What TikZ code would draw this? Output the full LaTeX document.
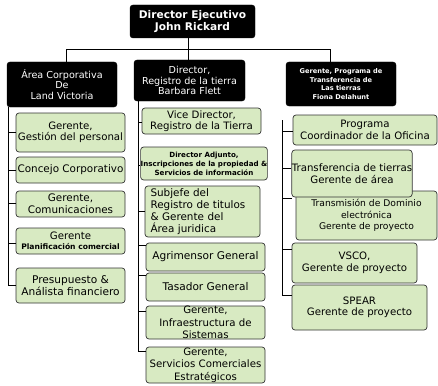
\documentclass[tikz,border=0pt]{standalone}
\usepackage{fontspec}
\setmainfont{DejaVu Sans}
\definecolor{boxgreen}{HTML}{D8EAC2}
\definecolor{boxline}{HTML}{333333}
\tikzset{
  hdr/.style={draw=black, fill=black, text=white, rounded corners=3pt, align=center, inner sep=0pt, font=\fontsize{9.6}{10.8}\selectfont},
  gbox/.style={draw=boxline, line width=0.7pt, fill=boxgreen, rounded corners=3pt, align=center, inner sep=0pt, font=\fontsize{10.2}{11.5}\selectfont},
  link/.style={draw=black, line width=1pt},
}
\newcommand{\bx}[6]{% name, x1, y1, x2, y2, style
  \node[#6, minimum width={(#4-#2)*1pt}, minimum height={(#5-#3)*1pt}] (#1) at ({(#2+#4)/2},{(#3+#5)/2})}
\begin{document}
\begin{tikzpicture}[x=1pt,y=-1pt]
\useasboundingbox (0,0) rectangle (438,385);
\fill[white] (0,0) rectangle (438,385);

% headers
\bx{top}{130}{5}{255}{38}{hdr,font=\bfseries\fontsize{10.6}{12}\selectfont}{Director Ejecutivo\\John Rickard};
\bx{lh}{7}{62}{117}{107}{hdr}{Área Corporativa\\De\\Land Victoria};
\bx{mh}{134}{60}{245}{101}{hdr}{Director,\\Registro de la tierra\\Barbara Flett};
\bx{rh}{286}{62}{396}{106}{hdr,font=\bfseries\fontsize{6.6}{8.8}\selectfont}{Gerente, Programa de\\Transferencia de\\Las tierras\\Fiona Delahunt};

% top connectors
\coordinate (trunk) at (188,50);
\coordinate (hl) at (66,50);
\coordinate (hr) at (330,50);
\draw[link] (top.south -| trunk) -- (mh.north -| trunk);
\draw[link] (lh.north -| hl) -- (hl) -- (hr) -- (rh.north -| hr);

% left column
\bx{g1}{16}{113}{125}{152}{gbox}{Gerente,\\Gestión del personal};
\bx{g2}{16}{157}{125}{183}{gbox,font=\fontsize{10.4}{11}\selectfont}{Concejo Corporativo};
\bx{g3}{16}{191}{125}{217}{gbox,font=\fontsize{10.4}{12}\selectfont}{Gerente,\\Comunicaciones};
\bx{g4}{16}{228}{125}{254}{gbox}{Gerente\\[-1pt]{\bfseries\fontsize{7.6}{8}\selectfont Planificación comercial}};
\bx{g5}{16}{268}{125}{303}{gbox,font=\fontsize{10.6}{12.5}\selectfont}{Presupuesto \&\\Análista financiero};
\coordinate (lv) at (8,0);
\draw[link] (lh.south -| lv) -- (lv |- 0,285) -- (g5.west |- 0,285);
\foreach \n/\y in {g1/132,g2/170,g3/203,g4/243}
  \draw[link] (lv |- 0,\y) -- (\n.west |- 0,\y);

% middle column
\bx{m1}{142}{108}{261}{134}{gbox}{Vice Director,\\Registro de la Tierra};
\bx{m2}{145}{147}{263}{180}{gbox,font=\bfseries\fontsize{7.1}{9}\selectfont}{Director Adjunto,\\Inscripciones de la propiedad \&\\Servicios de información};
\bx{m3}{145}{186}{260}{237}{gbox,align=left,text width=104pt,font=\fontsize{10.4}{11.8}\selectfont}{Subjefe del\\Registro de titulos\\\& Gerente del\\Área juridica};
\bx{m4}{146}{243}{265}{271}{gbox,font=\fontsize{10.6}{12}\selectfont}{Agrimensor General};
\bx{m5}{146}{273}{265}{301}{gbox,font=\fontsize{10.6}{12}\selectfont}{Tasador General};
\bx{m6}{146}{306}{265}{339}{gbox,font=\fontsize{10.2}{12.4}\selectfont}{Gerente,\\Infraestructura de\\Sistemas};
\bx{m7}{146}{347}{265}{383}{gbox,font=\fontsize{10.2}{12.4}\selectfont}{Gerente,\\Servicios Comerciales\\Estratégicos};
\coordinate (mv) at (138,0);
\draw[link] (mh.south -| mv) -- (mv |- 0,351) -- (m7.west |- 0,351);
\foreach \n/\y in {m1/122,m2/165,m3/211,m4/245,m5/275,m6/311}
  \draw[link] (mv |- 0,\y) -- (\n.west |- 0,\y);

% right column
\bx{r3}{296}{191}{437}{240}{gbox,font=\fontsize{9.2}{11.5}\selectfont}{Transmisión de Dominio\\electrónica\\Gerente de proyecto};
\bx{r1}{293}{115}{437}{145}{gbox}{Programa\\Coordinador de la Oficina};
\bx{r2}{292}{150}{412}{197}{gbox}{Transferencia de tierras\\Gerente de área};
\bx{r4}{292}{243}{417}{283}{gbox}{VSCO,\\Gerente de proyecto};
\bx{r5}{292}{285}{427}{330}{gbox}{SPEAR\\Gerente de proyecto};
\coordinate (rv) at (282,120);
\coordinate (r3end) at (292,198);
\draw[link] (rv) -- (rv |- 0,295) -- (r5.west |- 0,295);
\foreach \n/\y in {r1/131,r2/168,r4/249}
  \draw[link] (rv |- 0,\y) -- (\n.west |- 0,\y);
\draw[link] (rv |- r3end) -- (r3end);
\end{tikzpicture}
\end{document}
